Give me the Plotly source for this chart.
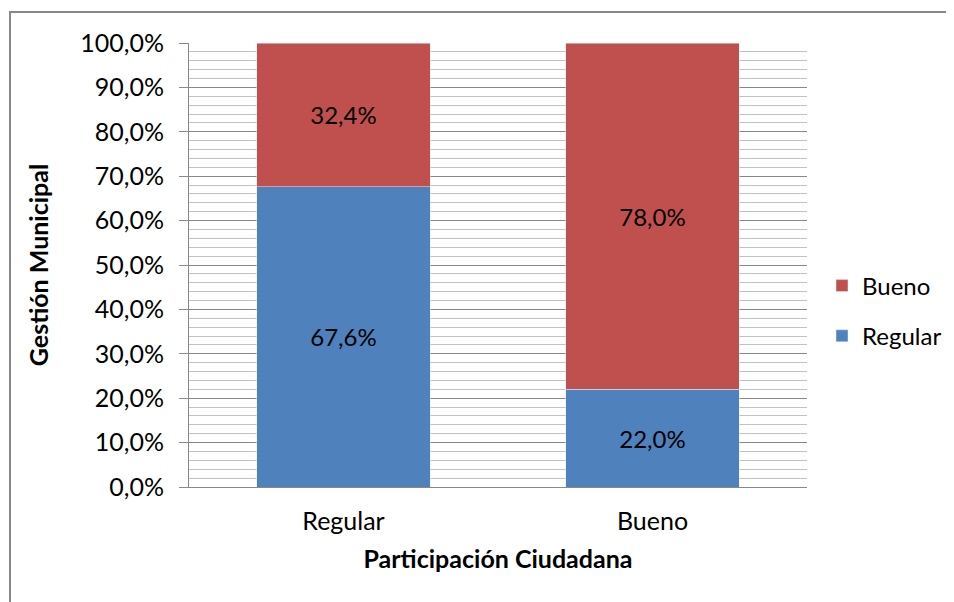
import plotly.graph_objects as go

categories = ["Regular", "Bueno"]
regular_vals = [67.6, 22.0]
bueno_vals = [32.4, 78.0]
tick_vals = [0, 10, 20, 30, 40, 50, 60, 70, 80, 90, 100]
tick_text = ["0,0%", "10,0%", "20,0%", "30,0%", "40,0%", "50,0%", "60,0%", "70,0%", "80,0%", "90,0%", "100,0%"]

FONT = "Lato, Open Sans, sans-serif"

# figure is drawn with an 8px page offset; plot area targets screen x 189-808, y 43-487
L, R, T, B = 181, 155, 35, 123
PW, PH = 954 - L - R, 602 - T - B

fig = go.Figure()
fig.add_trace(go.Bar(
    x=categories, y=regular_vals, name="Regular", marker_color="#4F81BD",
    texttemplate="%{y:.1f}%", textposition="inside",
    insidetextanchor="middle", textfont=dict(color="black", size=24, family=FONT),
    legendgroup="r", legendrank=2,
))
fig.add_trace(go.Bar(
    x=categories, y=bueno_vals, name="Bueno", marker_color="#C0504D",
    texttemplate="%{y:.1f}%", textposition="inside",
    insidetextanchor="middle", textfont=dict(color="black", size=24, family=FONT),
    legendgroup="b", legendrank=1,
))

fig.update_layout(
    barmode="stack",
    bargap=0.44,
    separators=",.",
    width=954, height=602,
    margin=dict(l=L, r=R, t=T, b=B, autoexpand=False),
    paper_bgcolor="white", plot_bgcolor="white",
    font=dict(family=FONT, size=24, color="black"),
    showlegend=True,
    legend=dict(
        x=(822 - 8 - L) / PW, y=(479 - 303) / PH, xanchor="left", yanchor="middle",
        traceorder="grouped", tracegroupgap=16,
        font=dict(size=24, family=FONT), bgcolor="rgba(0,0,0,0)",
    ),
    uniformtext=dict(mode=False),
)

fig.update_yaxes(
    range=[0, 100], tickvals=tick_vals, ticktext=tick_text,
    showgrid=True, gridcolor="#888888", gridwidth=1,
    minor=dict(dtick=2, showgrid=True, gridcolor="#C2C2C2", gridwidth=1, ticks=""),
    ticks="outside", ticklen=9, tickcolor="#888888",
    ticklabelstandoff=10,
    showline=True, linecolor="#888888", linewidth=1,
    zeroline=False,
    tickfont=dict(size=25, family=FONT),
    title=dict(text="<b>Gestión Municipal</b>", font=dict(size=25, family=FONT), standoff=24),
)
fig.update_xaxes(
    showgrid=False, showline=True, linecolor="#888888", linewidth=1,
    ticks="", ticklabelstandoff=12, tickfont=dict(size=25, family=FONT),
    title=dict(text="<b>Participación Ciudadana</b>", font=dict(size=25, family=FONT), standoff=16),
)

# outer chart frame (right and bottom edges fall outside the visible area)
fig.add_shape(type="rect", xref="paper", yref="paper",
              x0=(2 - L) / PW, x1=2.0, y0=-1.0, y1=(479 - 4) / PH,
              line=dict(color="#888888", width=2), fillcolor="rgba(0,0,0,0)", layer="below")

fig.write_html("out.html")
